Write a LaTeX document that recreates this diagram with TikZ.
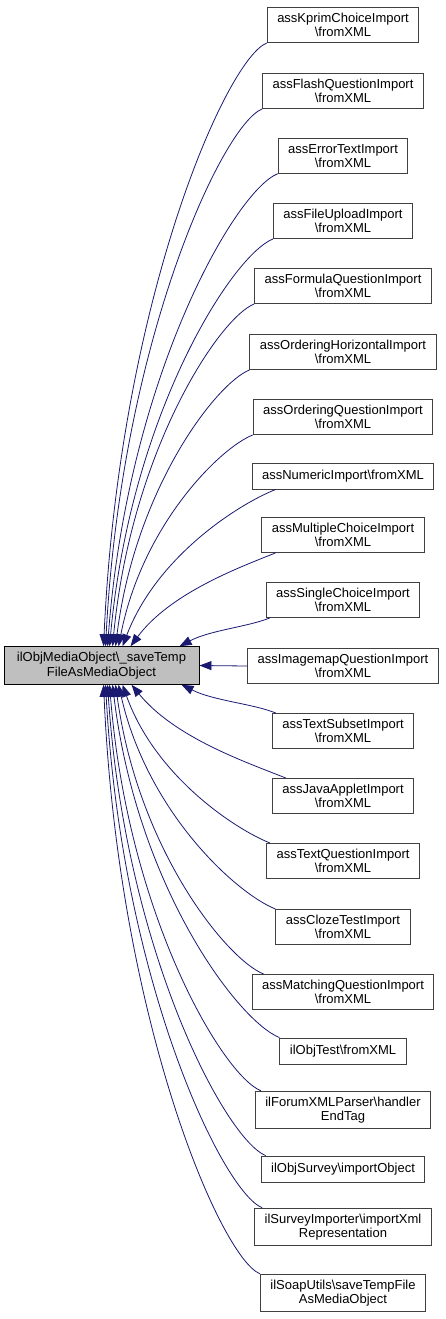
\documentclass[tikz,border=0pt]{standalone}
\usepackage{fontspec}
\setmainfont{Liberation Sans}
\usepackage{xcolor}
\usepackage{tikz}
\usetikzlibrary{positioning}
\usetikzlibrary{arrows.meta}
\usetikzlibrary{calc}
\definecolor{edgeblue}{HTML}{191970}
\newcommand{\bsl}{\textbackslash{}}
\tikzset{callbox/.style={rectangle,draw=black!75,fill=white,align=center,inner xsep=10pt,inner ysep=5.5pt,minimum height=26pt,line width=0.9pt}}
\tikzset{mainbox/.style={callbox,draw=black,fill=black!25,minimum width=195pt}}
\tikzset{calledge/.style={draw=edgeblue,line width=0.8pt,-{Triangle[length=12pt,width=9pt]}}}

\begin{document}
\begin{tikzpicture}[x=1pt,y=-1pt,font=\fontsize{13}{14.5}\selectfont]
  \useasboundingbox (0,0) rectangle (445,1319);

	\def\cx{343};

  \node[mainbox] (main) at (101.5,665.5) {ilObjMediaObject\bsl\_saveTemp\\FileAsMediaObject};

  % callers above
  \foreach \name/\ypos/\tip/\sh/\txt in {
      kprim/25/100/0/{assKprimChoiceImport\\\bsl fromXML},
      flash/91/102/0/{assFlashQuestionImport\\\bsl fromXML},
      errtext/156/104/0/{assErrorTextImport\\\bsl fromXML},
      upload/221/106/0/{assFileUploadImport\\\bsl fromXML},
      formula/286/109/0/{assFormulaQuestionImport\\\bsl fromXML},
      ordhoriz/352/112/0/{assOrderingHorizontalImport\\\bsl fromXML},
      ordquest/417/115/0/{assOrderingQuestionImport\\\bsl fromXML},
      numeric/476/119/24/{assNumericImport\bsl fromXML},
      multi/535/127/14/{assMultipleChoiceImport\\\bsl fromXML},
      single/600/176/4/{assSingleChoiceImport\\\bsl fromXML}} {
    \node[callbox] (\name) at (\cx,\ypos) {\txt};
    \coordinate (\name-s) at ($(\name.south west)+(\sh,0)$);
    \coordinate (\name-t) at ($(main.north west)+(\tip,0)$);
    \draw[calledge] let \p1=(\name-s), \p2=(\name-t), \n1={\x1-\x2}, \n2={\y1-\y2} in
      (\name-s) .. controls ($(\name-s)+(-0.25*\n1,-0.1*\n1)$) and ($(\name-t)+({0.45*\n1/(\n1+\n2)*\n1},0.57*\n2)$) .. (\name-t);
  }

  \node[callbox] (imagemap) at (\cx,666) {assImagemapQuestionImport\\\bsl fromXML};
  \draw[calledge] (imagemap.west) -- (main.east);

  % callers below
  \foreach \name/\ypos/\tip/\sh/\txt in {
      subset/731/178/4/{assTextSubsetImport\\\bsl fromXML},
      applet/796/128/14/{assJavaAppletImport\\\bsl fromXML},
      textq/861/119/4/{assTextQuestionImport\\\bsl fromXML},
      cloze/927/115/0/{assClozeTestImport\\\bsl fromXML},
      matching/992/112/12/{assMatchingQuestionImport\\\bsl fromXML},
      objtest/1051/109/0/{ilObjTest\bsl fromXML},
      forum/1110/106/6/{ilForumXMLParser\bsl handler\\EndTag},
      survey/1169/104/5/{ilObjSurvey\bsl importObject},
      surveyimp/1227/102/8/{ilSurveyImporter\bsl importXml\\Representation},
      soap/1293/100/0/{ilSoapUtils\bsl saveTempFile\\AsMediaObject}} {
    \node[callbox] (\name) at (\cx,\ypos) {\txt};
    \coordinate (\name-s) at ($(\name.north west)+(\sh,0)$);
    \coordinate (\name-t) at ($(main.south west)+(\tip,0)$);
    \draw[calledge] let \p1=(\name-s), \p2=(\name-t), \n1={\x1-\x2}, \n2={\y2-\y1} in
      (\name-s) .. controls ($(\name-s)+(-0.25*\n1,0.1*\n1)$) and ($(\name-t)+({0.45*\n1/(\n1+\n2)*\n1},-0.57*\n2)$) .. (\name-t);
  }

\end{tikzpicture}
\end{document}
